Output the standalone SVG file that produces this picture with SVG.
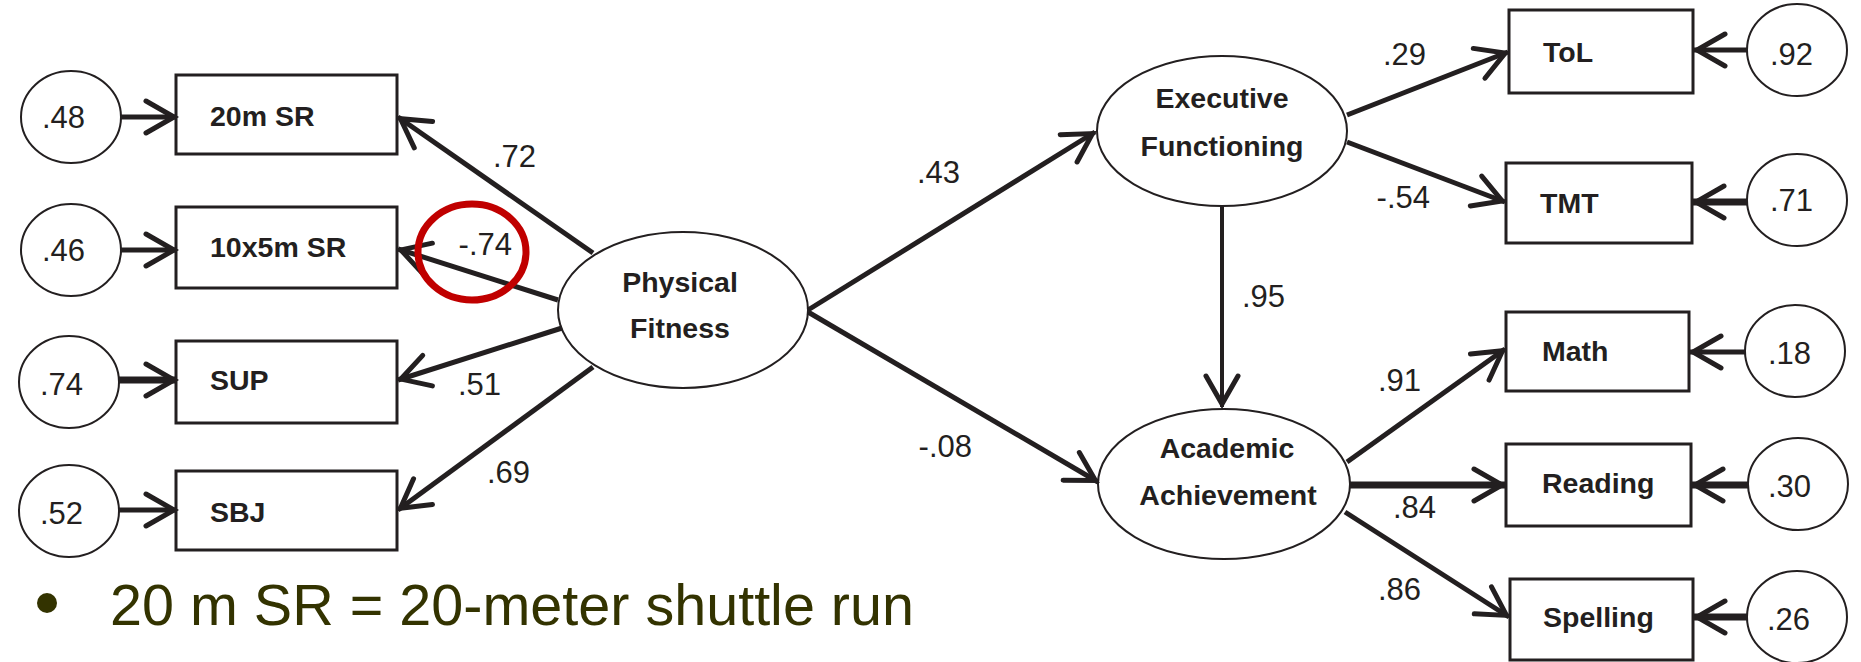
<svg xmlns="http://www.w3.org/2000/svg" width="1861" height="662" viewBox="0 0 1861 662">
<style>
.bg{fill:#ffffff}
.box{fill:#ffffff;stroke:#231f20;stroke-width:3}
.err{fill:#ffffff;stroke:#231f20;stroke-width:2}
.lat{fill:#ffffff;stroke:#231f20;stroke-width:2}
.edge{fill:none;stroke:#231f20;stroke-width:5;marker-end:url(#ah)}
.thick{stroke-width:7}
.thin{stroke-width:4}
.lbl{font-family:"Liberation Sans",Arial,sans-serif;font-weight:bold;font-size:28.5px;fill:#231f20}
.num{font-family:"Liberation Sans",Arial,sans-serif;font-size:31px;fill:#231f20}
.mid{text-anchor:middle}
.end{text-anchor:end}
.note{font-family:"Liberation Sans",Arial,sans-serif;font-size:57px;fill:#333300}
</style>
<defs>
<marker id="ah" viewBox="-40 -25 50 50" refX="3" refY="0" markerWidth="50" markerHeight="50" markerUnits="userSpaceOnUse" orient="auto">
<path d="M-28,-16 L0,0 L-28,16" fill="none" stroke="#231f20" stroke-width="5" stroke-linecap="round" stroke-linejoin="miter"/>
</marker>
</defs>
<rect class="bg" x="0" y="0" width="1861" height="662"/>

<g id="nodes">
<g id="e48"><ellipse class="err" cx="71" cy="117" rx="50" ry="46"/><text class="num" x="42" y="128">.48</text></g>
<g id="e46"><ellipse class="err" cx="71" cy="250" rx="50" ry="46"/><text class="num" x="42" y="261">.46</text></g>
<g id="e74"><ellipse class="err" cx="69" cy="382" rx="50" ry="46"/><text class="num" x="40" y="395">.74</text></g>
<g id="e52"><ellipse class="err" cx="69" cy="511" rx="50" ry="46"/><text class="num" x="40" y="524">.52</text></g>

<g id="sr20"><rect class="box" x="176" y="75" width="221" height="79"/><text class="lbl" x="210" y="126">20m SR</text></g>
<g id="sr10x5"><rect class="box" x="176" y="207" width="221" height="81"/><text class="lbl" x="210" y="257">10x5m SR</text></g>
<g id="sup"><rect class="box" x="176" y="341" width="221" height="82"/><text class="lbl" x="210" y="390">SUP</text></g>
<g id="sbj"><rect class="box" x="176" y="471" width="221" height="79"/><text class="lbl" x="210" y="522">SBJ</text></g>

<g id="pf"><ellipse class="lat" cx="683" cy="310" rx="125" ry="78"/><text class="lbl mid" x="680" y="292">Physical</text><text class="lbl mid" x="680" y="338">Fitness</text></g>
<g id="ef"><ellipse class="lat" cx="1222" cy="131" rx="125" ry="75"/><text class="lbl mid" x="1222" y="108">Executive</text><text class="lbl mid" x="1222" y="156">Functioning</text></g>
<g id="aa"><ellipse class="lat" cx="1224" cy="484" rx="126" ry="75"/><text class="lbl mid" x="1227" y="458">Academic</text><text class="lbl mid" x="1228" y="505">Achievement</text></g>

<g id="tol"><rect class="box" x="1509" y="10" width="184" height="83"/><text class="lbl" x="1543" y="62">ToL</text></g>
<g id="tmt"><rect class="box" x="1506" y="163" width="186" height="80"/><text class="lbl" x="1540" y="213">TMT</text></g>
<g id="math"><rect class="box" x="1506" y="312" width="183" height="79"/><text class="lbl" x="1542" y="361">Math</text></g>
<g id="reading"><rect class="box" x="1506" y="444" width="185" height="82"/><text class="lbl" x="1542" y="493">Reading</text></g>
<g id="spelling"><rect class="box" x="1510" y="579" width="183" height="81"/><text class="lbl" x="1543" y="627">Spelling</text></g>

<g id="e92"><ellipse class="err" cx="1797" cy="50" rx="50" ry="46"/><text class="num" x="1770" y="65">.92</text></g>
<g id="e71"><ellipse class="err" cx="1797" cy="200" rx="50" ry="46"/><text class="num" x="1770" y="211">.71</text></g>
<g id="e18"><ellipse class="err" cx="1795" cy="351" rx="50" ry="46"/><text class="num" x="1768" y="364">.18</text></g>
<g id="e30"><ellipse class="err" cx="1798" cy="484" rx="50" ry="46"/><text class="num" x="1768" y="497">.30</text></g>
<g id="e26"><ellipse class="err" cx="1797" cy="617" rx="50" ry="46"/><text class="num" x="1767" y="630">.26</text></g>
</g>

<g id="connectors">
<line class="edge" x1="121" y1="117" x2="177" y2="117"/>
<line class="edge" x1="121" y1="250" x2="177" y2="250"/>
<line class="edge thick" x1="119" y1="380" x2="177" y2="380"/>
<line class="edge" x1="119" y1="510" x2="177" y2="510"/>

<line class="edge" x1="593" y1="253" x2="398" y2="117"/>
<line class="edge" x1="558" y1="300" x2="398" y2="249"/>
<line class="edge" x1="562" y1="328" x2="398" y2="380"/>
<line class="edge" x1="593" y1="367" x2="398" y2="510"/>

<line class="edge" x1="808" y1="310" x2="1095" y2="132"/>
<line class="edge" x1="808" y1="312" x2="1098" y2="482"/>
<line class="edge thin" x1="1222" y1="206" x2="1222" y2="407"/>

<line class="edge" x1="1347" y1="115" x2="1508" y2="52"/>
<line class="edge" x1="1347" y1="142" x2="1505" y2="202"/>
<line class="edge" x1="1347" y1="462" x2="1505" y2="349"/>
<line class="edge thick" x1="1350" y1="485" x2="1505" y2="485"/>
<line class="edge" x1="1345" y1="512" x2="1509" y2="617"/>

<line class="edge" x1="1747" y1="50" x2="1694" y2="50"/>
<line class="edge thick" x1="1747" y1="202" x2="1693" y2="202"/>
<line class="edge" x1="1745" y1="352" x2="1690" y2="352"/>
<line class="edge thick" x1="1748" y1="485" x2="1692" y2="485"/>
<line class="edge thick" x1="1747" y1="617" x2="1694" y2="617"/>

<g id="labels">
<text class="num" x="493" y="167">.72</text>
<text class="num end" x="512" y="255">-.74</text>
<text class="num" x="458" y="395">.51</text>
<text class="num" x="487" y="483">.69</text>
<text class="num" x="917" y="183">.43</text>
<text class="num end" x="972" y="457">-.08</text>
<text class="num" x="1242" y="307">.95</text>
<text class="num" x="1383" y="65">.29</text>
<text class="num end" x="1430" y="208">-.54</text>
<text class="num" x="1378" y="391">.91</text>
<text class="num" x="1393" y="518">.84</text>
<text class="num" x="1378" y="600">.86</text>
</g>
</g>

<ellipse id="highlight" cx="472" cy="252" rx="54" ry="48" fill="none" stroke="#c00000" stroke-width="7"/>

<g id="bullet">
<circle cx="47" cy="603" r="10" fill="#333300"/>
<text class="note" x="110" y="625" textLength="804" lengthAdjust="spacingAndGlyphs">20 m SR = 20-meter shuttle run</text>
</g>
</svg>
